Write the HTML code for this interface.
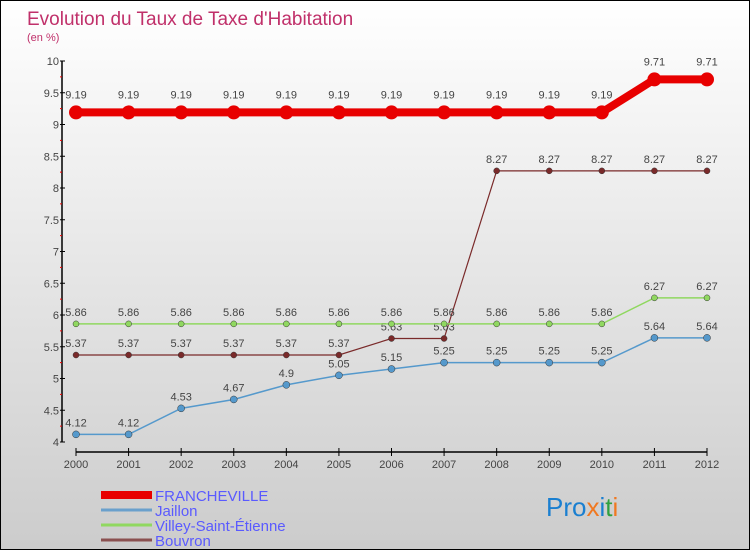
<!DOCTYPE html>
<html><head><meta charset="utf-8"><style>
body{margin:0}
#c{width:748px;height:548px;border:1px solid #000;background:linear-gradient(#fff,#ccc);position:relative;overflow:hidden;font-family:"Liberation Sans",sans-serif}
svg text{font-family:"Liberation Sans",sans-serif}
</style></head><body>
<div id="c">
<svg id="s" width="748" height="548">
<text x="26" y="24" font-size="19" fill="#c0306a">Evolution du Taux de Taxe d'Habitation</text>
<text x="26" y="40" font-size="11" fill="#c0306a">(en %)</text>
<text x="545" y="515" font-size="26" fill="#1a7fd0">Pro<tspan fill="#f07820">x</tspan><tspan fill="#1a7fd0">i</tspan><tspan fill="#30a040">t</tspan><tspan fill="#f07820">i</tspan></text>
</svg></div>
<script>
const years=[2000,2001,2002,2003,2004,2005,2006,2007,2008,2009,2010,2011,2012];
const yTicks=[4,4.5,5,5.5,6,6.5,7,7.5,8,8.5,9,9.5,10];
const francheville=[9.19,9.19,9.19,9.19,9.19,9.19,9.19,9.19,9.19,9.19,9.19,9.71,9.71];
const jaillon=[4.12,4.12,4.53,4.67,4.9,5.05,5.15,5.25,5.25,5.25,5.25,5.64,5.64];
const villey=[5.86,5.86,5.86,5.86,5.86,5.86,5.86,5.86,5.86,5.86,5.86,6.27,6.27];
const bouvron=[5.37,5.37,5.37,5.37,5.37,5.37,5.63,5.63,8.27,8.27,8.27,8.27,8.27];
const names=["FRANCHEVILLE","Jaillon","Villey-Saint-Étienne","Bouvron"];
const s=document.getElementById('s');const NS="http://www.w3.org/2000/svg";
function X(i){return 75+i*(706-75)/(years.length-1);}
function Y(v){return 441-(v-4)*(441-60)/6;}
function el(t,a,p){const e=document.createElementNS(NS,t);for(const k in a)e.setAttribute(k,a[k]);(p||s).appendChild(e);return e;}
let e;
e=el('line',{x1:61,y1:60,x2:61,y2:441,stroke:'#000','stroke-width':1.5});


yTicks.forEach(v=>{
 const integerish=Math.abs(v*2-Math.round(v*2))<1e-6;
 e=el('line',{x1:59,y1:Y(v),x2:64,y2:Y(v),stroke:'#000'});
 
 
 e=el('text',{x:58,y:Y(v)+4,'font-size':11,fill:'#444','text-anchor':'end'});
 e.textContent=String(v);
 
 
 if(v<10){e=el('line',{x1:59,y1:Y(v+0.25),x2:61,y2:Y(v+0.25),stroke:'#e00'});
 
 }
});
e=el('line',{x1:75,y1:451,x2:706,y2:451,stroke:'#000','stroke-width':1.5});


years.forEach((yr,i)=>{
 e=el('line',{x1:X(i),y1:447,x2:X(i),y2:455,stroke:'#000'});
 
 
 e=el('text',{x:X(i),y:467,'font-size':11,fill:'#444','text-anchor':'middle'});
 e.textContent=yr;
 
 
});
function series(data,color,w,r,name){
 const g=el('g',{});
 
 
 e=el('polyline',{points:data.map((v,i)=>X(i)+','+Y(v)).join(' '),fill:'none',stroke:color,'stroke-width':w},g);
 
 
 data.forEach((v,i)=>{
  e=el('circle',{cx:X(i),cy:Y(v),r:r,fill:color,stroke:r>4?'none':'#333','stroke-width':0.5},g);
  
  
  e=el('text',{x:X(i),y:Y(v)-(r>4?14:8),'font-size':11,fill:'#444','text-anchor':'middle'},g);
  e.textContent=String(v);
  
  
 });
}
series(bouvron,'#7a2a2a',1.2,3,'bouvron');
series(villey,'#90d860',1.5,3,'villey');
series(jaillon,'#5599cc',1.5,3.5,'jaillon');
series(francheville,'#e80000',8,7,'francheville');
const lc=['#e80000','#6aa0cc','#90d860','#8a5050'],lw=[8,3,3,3];
names.forEach((n,i)=>{
 const y=494+i*15;
 e=el('line',{x1:100,y1:y,x2:151,y2:y,stroke:lc[i],'stroke-width':lw[i]});
 
 
 e=el('text',{x:154,y:y+6,'font-size':15,fill:'#5a5aff'});
 e.textContent=n;
 
 
});
</script>
</body></html>
